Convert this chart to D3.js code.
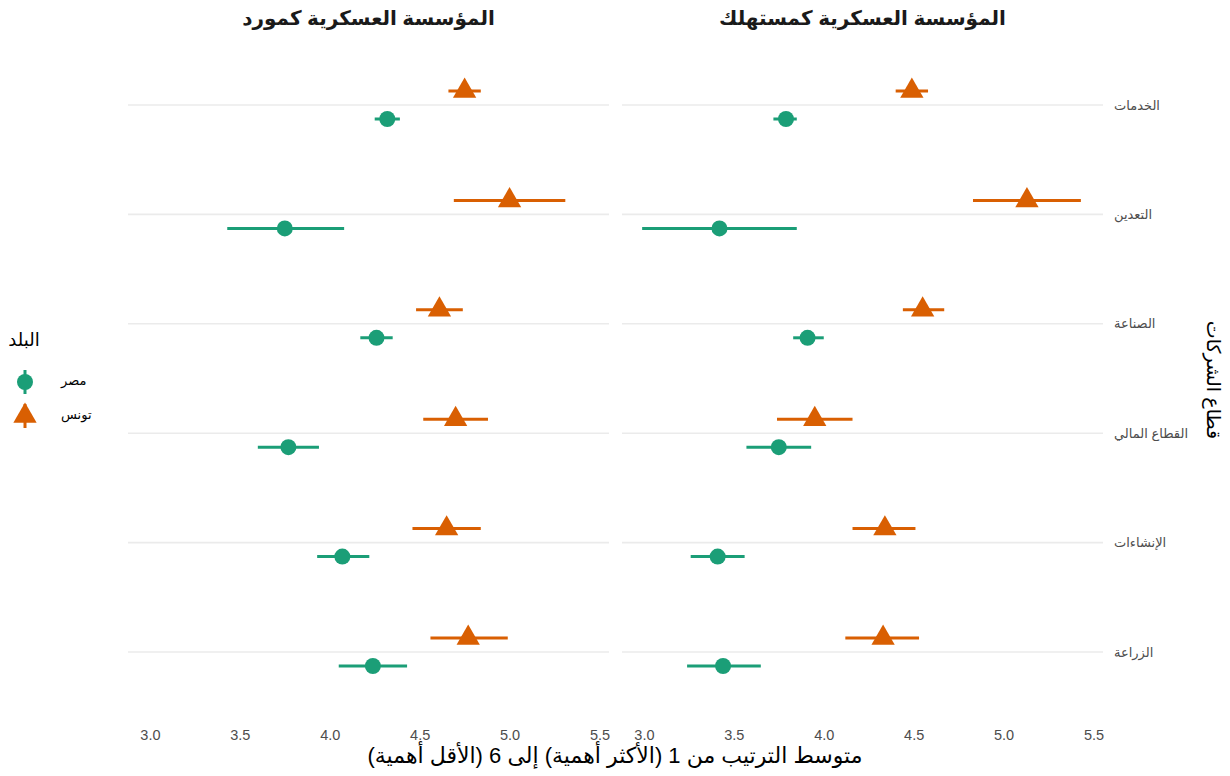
<!DOCTYPE html>
<html>
<head>
<meta charset="utf-8">
<script src="https://cdn.jsdelivr.net/npm/d3@7"></script>
<style>
  body { margin: 0; background: #fff; }
  text { font-family: "Liberation Sans", "DejaVu Sans", sans-serif; }
</style>
</head>
<body>
<div id="chart"></div>
<script>
// sectors, top to bottom
const sectors = ["الخدمات", "التعدين", "الصناعة", "القطاع المالي", "الإنشاءات", "الزراعة"];
const facets = ["المؤسسة العسكرية كمورد", "المؤسسة العسكرية كمستهلك"];
const countries = ["مصر", "تونس"];
const x_ticks = [3.0, 3.5, 4.0, 4.5, 5.0, 5.5];

// mean, low, high for each sector (same order as sectors)
const egypt_supplier_mean = [4.32, 3.75, 4.26, 3.77, 4.07, 4.24];
const egypt_supplier_low  = [4.25, 3.43, 4.17, 3.60, 3.93, 4.05];
const egypt_supplier_high = [4.39, 4.08, 4.35, 3.94, 4.22, 4.43];
const tunisia_supplier_mean = [4.75, 5.00, 4.61, 4.70, 4.65, 4.77];
const tunisia_supplier_low  = [4.66, 4.69, 4.48, 4.52, 4.46, 4.56];
const tunisia_supplier_high = [4.84, 5.31, 4.74, 4.88, 4.84, 4.99];

const egypt_consumer_mean = [3.79, 3.42, 3.91, 3.75, 3.41, 3.44];
const egypt_consumer_low  = [3.72, 2.99, 3.83, 3.57, 3.26, 3.24];
const egypt_consumer_high = [3.85, 3.85, 4.00, 3.93, 3.56, 3.65];
const tunisia_consumer_mean = [4.49, 5.13, 4.55, 3.95, 4.34, 4.33];
const tunisia_consumer_low  = [4.40, 4.83, 4.44, 3.74, 4.16, 4.12];
const tunisia_consumer_high = [4.58, 5.43, 4.67, 4.16, 4.51, 4.53];

const colors = {"مصر": "#1b9e77", "تونس": "#d95f02"};

function rows(facet, country, mean, low, high) {
    return sectors.map((s, i) => ({facet, country, sector: s, mean: mean[i], low: low[i], high: high[i]}));
}
const data = [].concat(
    rows(facets[0], countries[0], egypt_supplier_mean, egypt_supplier_low, egypt_supplier_high),
    rows(facets[0], countries[1], tunisia_supplier_mean, tunisia_supplier_low, tunisia_supplier_high),
    rows(facets[1], countries[0], egypt_consumer_mean, egypt_consumer_low, egypt_consumer_high),
    rows(facets[1], countries[1], tunisia_consumer_mean, tunisia_consumer_low, tunisia_consumer_high)
);

const width = 1230, height = 776;
const svg = d3.select("#chart").append("svg").attr("width", width).attr("height", height);

const panels = [
    {facet: facets[0], range: [128, 609]},
    {facet: facets[1], range: [622, 1103]},
];
const x_domain = [2.878, 5.553];

let y = d3.scalePoint().domain(sectors).range([105, 652]);
const dodge = 14;

panels.forEach(p => {
    let x = d3.scaleLinear().domain(x_domain).range(p.range);
    let g = svg.append("g");

    // grid
    g.selectAll("line.grid").data(sectors).join("line")
        .attr("x1", p.range[0]).attr("x2", p.range[1])
        .attr("y1", d => y(d)).attr("y2", d => y(d))
        .attr("stroke", "#ebebeb").attr("stroke-width", 1.6);

    // x axis
    let ax = g.append("g").attr("transform", `translate(0,${735})`)
        .call(d3.axisBottom(x).tickValues(x_ticks).tickFormat(d3.format(".1f")).tickSize(0).tickPadding(0));
    ax.select(".domain").remove();
    ax.selectAll("text").attr("fill", "#4d4d4d").attr("font-size", 14.5)
        .attr("dy", "0.35em").attr("y", 0)
        .style("font-family", "'Liberation Sans', sans-serif");

    // facet title
    g.append("text").attr("x", (p.range[0] + p.range[1]) / 2).attr("y", 20)
        .attr("text-anchor", "middle").attr("dominant-baseline", "middle")
        .attr("font-size", 20).attr("font-weight", "bold").attr("fill", "#1a1a1a")
        .text(p.facet);

    let pd = data.filter(d => d.facet === p.facet);
    let off = d => d.country === "تونس" ? -dodge : dodge;

    g.selectAll("line.err").data(pd).join("line")
        .attr("x1", d => x(d.low)).attr("x2", d => x(d.high))
        .attr("y1", d => y(d.sector) + off(d)).attr("y2", d => y(d.sector) + off(d))
        .attr("stroke", d => colors[d.country]).attr("stroke-width", 3);

    g.selectAll("circle.pt").data(pd.filter(d => d.country === "مصر")).join("circle")
        .attr("cx", d => x(d.mean)).attr("cy", d => y(d.sector) + off(d))
        .attr("r", 8).attr("fill", colors["مصر"]);

    g.selectAll("path.pt").data(pd.filter(d => d.country === "تونس")).join("path")
        .attr("d", d3.symbol().type(d3.symbolTriangle).size(235))
        .attr("transform", d => `translate(${x(d.mean)},${y(d.sector) + off(d)})`)
        .attr("fill", colors["تونس"]);
});

// y axis on the right
let ay = svg.append("g").attr("transform", `translate(${1114},0)`)
    .call(d3.axisRight(y).tickSize(0).tickPadding(0));
ay.select(".domain").remove();
ay.selectAll("text").attr("fill", "#4d4d4d").attr("font-size", 13).attr("text-anchor", "start");

// axis titles
svg.append("text").attr("x", 615).attr("y", 757)
    .attr("text-anchor", "middle").attr("dominant-baseline", "middle")
    .attr("direction", "rtl").style("direction", "rtl")
    .attr("font-size", 22).attr("fill", "#000")
    .text("متوسط الترتيب من 1 (الأكثر أهمية) إلى 6 (الأقل أهمية)");

svg.append("text")
    .attr("transform", `translate(${1212},${380}) rotate(90)`)
    .attr("text-anchor", "middle").attr("dominant-baseline", "middle")
    .attr("font-size", 19).attr("fill", "#000")
    .text("قطاع الشركات");

// legend
let lg = svg.append("g");
lg.append("text").attr("x", 24).attr("y", 341)
    .attr("text-anchor", "middle").attr("dominant-baseline", "middle")
    .attr("font-size", 18).attr("fill", "#000").text("البلد");
countries.forEach((c, i) => {
    let cy = 382 + i * 34;
    lg.append("line").attr("x1", 25).attr("x2", 25).attr("y1", cy - 12).attr("y2", cy + 12)
        .attr("stroke", colors[c]).attr("stroke-width", 3);
    if (c === "مصر") {
        lg.append("circle").attr("cx", 25).attr("cy", cy).attr("r", 8).attr("fill", colors[c]);
    } else {
        lg.append("path").attr("d", d3.symbol().type(d3.symbolTriangle).size(235)())
            .attr("transform", `translate(25,${cy})`).attr("fill", colors[c]);
    }
    lg.append("text").attr("x", 61).attr("y", cy)
        .attr("text-anchor", "start").attr("dominant-baseline", "middle")
        .attr("font-size", 13).attr("fill", "#000").text(c);
});
</script>
</body>
</html>
